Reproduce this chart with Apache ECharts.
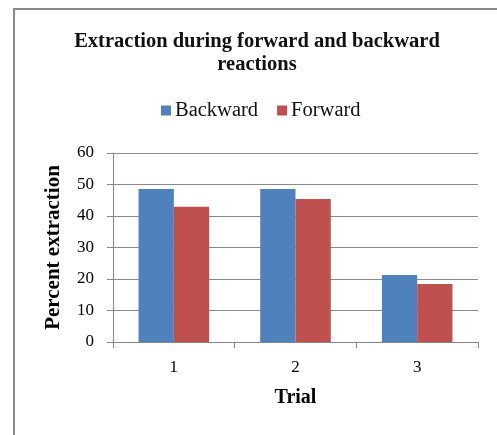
<!DOCTYPE html>
<html>
<head>
<meta charset="utf-8">
<script src="https://cdn.jsdelivr.net/npm/echarts@6/dist/echarts.min.js"></script>
<style>
html,body{margin:0;padding:0;background:#fff;}
#chart{width:497px;height:435px;}
</style>
</head>
<body>
<div id="chart"></div>
<script>
const categories = ['1', '2', '3'];
const backward = [48.6, 48.6, 21.3];
const forward = [42.9, 45.4, 18.4];
const seriesNames = ['Backward', 'Forward'];
const yTicks = { min: 0, max: 60, interval: 10 };

const FONT = "'Liberation Serif', 'Times New Roman', serif";
const chart = echarts.init(document.getElementById('chart'), null, { renderer: 'canvas' });
chart.setOption({
  animation: false,
  backgroundColor: '#fff',
  graphic: [{
    type: 'rect', silent: true, z: -1,
    shape: { x: 14, y: 9, width: 520, height: 460 },
    style: { fill: 'none', stroke: '#8a8a8a', lineWidth: 2 }
  }],
  title: {
    text: 'Extraction during forward and backward\nreactions',
    left: 257, top: 30, padding: 0, textAlign: 'center',
    textStyle: { fontFamily: FONT, fontWeight: 'bold', fontSize: 20.5, lineHeight: 23, color: '#111' }
  },
  legend: {
    data: seriesNames,
    left: 161, top: 100, padding: 0,
    itemWidth: 10, itemHeight: 10, itemGap: 19,
    icon: 'rect',
    textStyle: { fontFamily: FONT, fontSize: 20.5, color: '#111', padding: [0, 0, 0, -1] }
  },
  grid: { left: 113, right: 19, top: 153, bottom: 93, containLabel: false },
  xAxis: {
    type: 'category', data: categories,
    name: 'Trial', nameLocation: 'middle', nameGap: 46,
    nameTextStyle: { fontFamily: FONT, fontWeight: 'bold', fontSize: 20, color: '#000' },
    axisLine: { lineStyle: { color: '#868686', width: 1 } },
    axisTick: { show: true, length: 6, alignWithLabel: false, lineStyle: { color: '#868686' } },
    axisLabel: { fontFamily: FONT, fontSize: 17, color: '#000', margin: 17 },
    splitLine: { show: false }
  },
  yAxis: {
    type: 'value', min: yTicks.min, max: yTicks.max, interval: yTicks.interval,
    name: 'Percent extraction', nameLocation: 'middle', nameGap: 49, nameRotate: 90,
    nameTextStyle: { fontFamily: FONT, fontWeight: 'bold', fontSize: 21, color: '#000' },
    axisLine: { show: true, lineStyle: { color: '#868686', width: 1 } },
    axisTick: { show: true, length: 6, lineStyle: { color: '#868686' } },
    axisLabel: { fontFamily: FONT, fontSize: 17, color: '#000', margin: 19 },
    splitLine: { show: true, lineStyle: { color: '#8a8a8a', width: 1 } }
  },
  series: [
    { name: seriesNames[0], type: 'bar', data: backward, barGap: '0%', barCategoryGap: '42%',
      itemStyle: { color: '#4F81BD' } },
    { name: seriesNames[1], type: 'bar', data: forward, barGap: '0%', barCategoryGap: '42%',
      itemStyle: { color: '#C0504D' } }
  ]
});
</script>
</body>
</html>
